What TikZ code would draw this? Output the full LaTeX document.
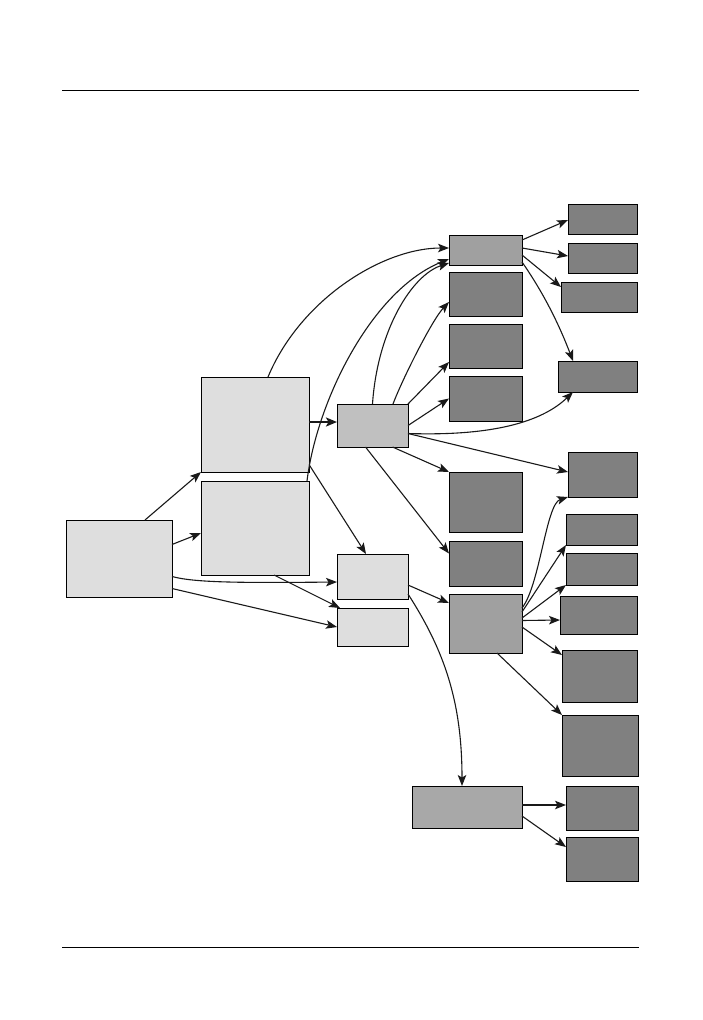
\documentclass[tikz,border=0pt]{standalone}
\usetikzlibrary{arrows.meta}
\definecolor{lightfill}{HTML}{DEDEDE}
\definecolor{midfill}{HTML}{C0C0C0}
\definecolor{greyfill}{HTML}{A0A0A0}
\definecolor{nfill}{HTML}{A8A8A8}
\definecolor{darkfill}{HTML}{808080}
\tikzset{
  box/.style={draw=black, line width=1pt, inner sep=0pt, outer sep=0pt},
  lbox/.style={box, fill=lightfill},
  mbox/.style={box, fill=midfill},
  gbox/.style={box, fill=greyfill},
  nbox/.style={box, fill=nfill},
  dbox/.style={box, fill=darkfill},
  conn/.style={draw=black!90, line width=1.1pt, -{Stealth[length=11pt,width=8.5pt,inset=2.5pt]}},
  thickconn/.style={conn, line width=2.4pt, -{Stealth[length=11pt,width=9pt,inset=2.5pt]}},
  rule/.style={draw=black, line width=1pt}
}
\newcommand{\bx}[5]{\node[#1, minimum width=#4pt, minimum height=#5pt] (#2) at (#3) {};}
\begin{document}
\begin{tikzpicture}[x=1pt, y=-1pt]
\useasboundingbox (0,0) rectangle (702,1020);
% rules
\coordinate (h1) at (62,90); \coordinate (h2) at (639,90);
\coordinate (f1) at (62,947); \coordinate (f2) at (639,947);
\draw[rule] (h1) -- (h2);
\draw[rule] (f1) -- (f2);
% boxes
\bx{lbox}{A}{119,558.5}{106}{77}
\bx{lbox}{B}{255,424.5}{108}{95}
\bx{lbox}{C}{255,528}{108}{94}
\bx{mbox}{D}{372.5,425.5}{71}{43}
\bx{lbox}{E}{372.5,576.5}{71}{45}
\bx{lbox}{F}{372.5,627}{71}{38}
\bx{gbox}{G}{485.5,250}{73}{30}
\bx{dbox}{H}{485.5,294}{73}{44}
\bx{dbox}{I}{485.5,346}{73}{44}
\bx{dbox}{J}{485.5,398.5}{73}{45}
\bx{dbox}{K}{485.5,502}{73}{60}
\bx{dbox}{L}{485.5,563.5}{73}{45}
\bx{gbox}{M}{485.5,623.5}{73}{59}
\bx{dbox}{R1}{602.5,219}{69}{30}
\bx{dbox}{R2}{602.5,258}{69}{30}
\bx{dbox}{R3}{599,297}{76}{30}
\bx{dbox}{R4}{597.5,376.5}{79}{31}
\bx{dbox}{R5}{602.5,474.5}{69}{45}
\bx{dbox}{R6}{601.5,529.5}{71}{31}
\bx{dbox}{R7}{601.5,569}{71}{32}
\bx{dbox}{R8}{598.5,615}{77}{38}
\bx{dbox}{R9}{599.5,676}{75}{52}
\bx{dbox}{R10}{600,745.5}{76}{61}
\bx{nbox}{N}{467,807}{110}{42}
\bx{dbox}{R11}{602,808}{72}{44}
\bx{dbox}{R12}{602,859}{72}{44}
% connectors from A
\draw[conn] ([xshift=26pt]A.north) -- (B.south west);
\draw[conn] ([yshift=14pt]A.east) -- ([yshift=-5pt]C.west);
\draw[conn] ([yshift=-18pt]A.east) .. controls +(22,6) and +(-100,1) .. ([yshift=-5.5pt]E.west);
\draw[conn] ([yshift=-30pt]A.east) -- (F.west);
% from B and C
\draw[thickconn] ([yshift=2.5pt]B.east) -- ([yshift=3.5pt]D.west);
\draw[conn] ([yshift=-40pt]B.east) -- ([xshift=-6.5pt]E.north);
\draw[conn] ([xshift=19pt]C.south) -- ([xshift=3pt]F.north west);
\draw[conn] ([xshift=13pt]B.north) .. controls +(32,-77) and +(-67,0) .. ([yshift=2pt]G.west);
\draw[conn] ([xshift=-2pt]C.north east) .. controls +(10,-81) and +(-77,31) .. ([yshift=-9pt]G.west);
% from D
\draw[conn] (D.north) .. controls +(5,-74) and +(-37,12) .. ([yshift=-13pt]G.west);
\draw[conn] ([xshift=20.5pt]D.north) .. controls +(9,-24) and +(-17,18) .. ([yshift=-8pt]H.west);
\draw[conn] (D.north east) -- ([yshift=-16pt]I.west);
\draw[conn] (D.east) -- (J.west);
\draw[conn] ([yshift=-8pt]D.east) .. controls +(92,3) and +(-28,27) .. ([xshift=-24.5pt]R4.south);
\draw[conn] ([yshift=-8pt]D.east) -- ([yshift=2.5pt]R5.west);
\draw[conn] ([xshift=20pt]D.south) -- (K.north west);
\draw[conn] ([xshift=-7pt]D.south) -- ([yshift=10pt]L.west);
% from E
\draw[conn] ([yshift=-8.5pt]E.east) -- ([yshift=20.5pt]M.west);
\draw[conn] ([yshift=-17.5pt]E.east) .. controls +(36,56) and +(0,-85) .. ([xshift=-5pt]N.north);
% from G
\draw[conn] ([yshift=-5pt]G.north east) -- ([yshift=-1pt]R1.west);
\draw[conn] ([yshift=2pt]G.east) -- ([yshift=2pt]R2.west);
\draw[conn] ([yshift=-5pt]G.east) -- ([yshift=-5pt]R3.north west);
\draw[conn] ([yshift=-12pt]G.east) .. controls +(23,33) and +(-13,-34) .. ([xshift=-24.5pt]R4.north);
% from M
\draw[conn] ([yshift=-14pt]M.north east) .. controls +(18,-23) and +(-22,7) .. (R5.south west);
\draw[conn] ([yshift=11.5pt]M.east) -- (R6.south west);
\draw[conn] ([yshift=5.5pt]M.east) -- (R7.south west);
\draw[conn] ([yshift=3pt]M.east) -- ([yshift=-5pt]R8.west);
\draw[conn] ([yshift=-3.5pt]M.east) -- ([yshift=-5pt]R9.north west);
\draw[conn] ([xshift=11.5pt]M.south) -- (R10.north west);
% from N
\draw[conn] ([yshift=2pt]N.east) -- ([yshift=3pt]R11.west);
\draw[conn] ([yshift=-9pt]N.east) -- ([yshift=12pt]R12.west);
\end{tikzpicture}
\end{document}
